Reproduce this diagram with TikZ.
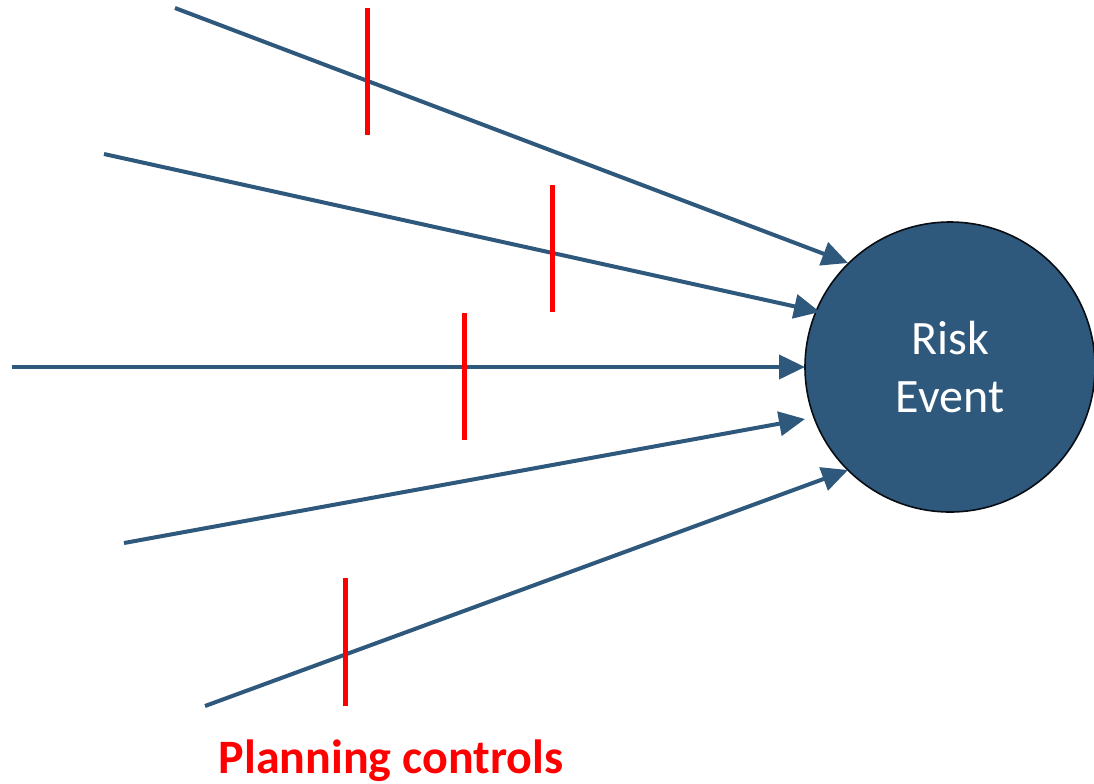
\documentclass[tikz,border=0pt]{standalone}
\usepackage{fontspec}
\setmainfont{Carlito}
\usetikzlibrary{arrows.meta}
\definecolor{riskblue}{RGB}{46,88,124}
\definecolor{ctrlred}{RGB}{255,0,0}
\begin{document}
\begin{tikzpicture}[x=0.75pt,y=-0.75pt,
  cause/.style={draw=riskblue, line width=3pt,
    -{Triangle[length=19.5pt,width=18pt]}},
  control/.style={draw=ctrlred, line width=3.75pt},
  event/.style={circle, fill=riskblue, draw=black!85!riskblue, line width=1.2pt,
    minimum size=217.5pt, inner sep=0pt, text=white, align=center,
    font=\fontsize{36}{44}\selectfont}]
\useasboundingbox (0,0) rectangle (1094,783);

% the event everything points at
\node[event] (risk) at (950,367) {Risk\\Event};

% cause lines: start points and arrow tips
\coordinate (s1) at (175,8);   \coordinate (t1) at (848,263);
\coordinate (s2) at (104,154); \coordinate (t2) at (820,312);
\coordinate (s3) at (12,367);  \coordinate (t3) at (805,367);
\coordinate (s4) at (124,543); \coordinate (t4) at (805,419);
\coordinate (s5) at (205,706); \coordinate (t5) at (848,470);

\draw[cause] (s1) -- (t1);
\draw[cause] (s2) -- (t2);
\draw[cause] (s3) -- (t3);
\draw[cause] (s4) -- (t4);
\draw[cause] (s5) -- (t5);

% control bars across the cause lines
\coordinate (c1a) at (367,8);   \coordinate (c1b) at (367,135);
\coordinate (c2a) at (552,185); \coordinate (c2b) at (552,312);
\coordinate (c3a) at (464,313); \coordinate (c3b) at (464,440);
\coordinate (c4a) at (345,578); \coordinate (c4b) at (345,706);
\draw[control] (c1a) -- (c1b);
\draw[control] (c2a) -- (c2b);
\draw[control] (c3a) -- (c3b);
\draw[control] (c4a) -- (c4b);

\node[text=ctrlred, font=\bfseries\fontsize{36}{40}\selectfont, anchor=base]
  (label) at (391,773) {Planning controls};
\end{tikzpicture}
\end{document}
